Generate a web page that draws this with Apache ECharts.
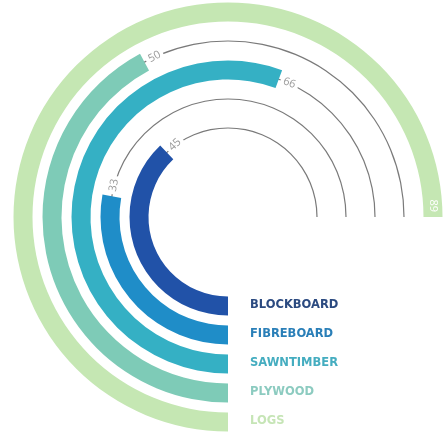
<!DOCTYPE html>
<html><head><meta charset="utf-8">
<script src="https://cdn.jsdelivr.net/npm/echarts@6/dist/echarts.min.js"></script>
<style>html,body{margin:0;padding:0;background:#fff}#c{width:445px;height:432px}</style>
</head><body><div id="c"></div>
<script>
const categories = ['BLOCKBOARD', 'FIBREBOARD', 'SAWNTIMBER', 'PLYWOOD', 'LOGS'];
const values = [45, 33, 66, 50, 89];
const trackMax = 89;
const barColors = ['#2152a8', '#1f8dc8', '#35b0c4', '#7ecbb7', '#c5e7b3'];
const legendColors = ['#2b4a80', '#2a7fb8', '#45adc0', '#8ccbc0', '#c6e5b6'];

const chart = echarts.init(document.getElementById('c'), null, {renderer: 'canvas'});
const center = [228, 217];
const radius = [74.5, 219.5];
const angleMax = trackMax * 360 / 270;

const series = categories.map((name, i) => ({
  name: name,
  type: 'bar',
  coordinateSystem: 'polar',
  polarIndex: 0,
  stack: 'main',
  barWidth: 19,
  z: 3,
  data: categories.map((c, j) => (j === i ? values[i] : '-')),
  itemStyle: {color: barColors[i]},
  label: {
    show: true,
    position: i === categories.length - 1 ? 'insideEnd' : 'end',
    distance: 2,
    color: i === categories.length - 1 ? '#ffffff' : '#9a9a9a',
    fontSize: 11,
    fontFamily: 'Open Sans',
    backgroundColor: i === categories.length - 1 ? 'transparent' : '#ffffff',
    padding: [0, 3]
  }
}));

series.push({
  name: 'track',
  type: 'bar',
  coordinateSystem: 'polar',
  polarIndex: 1,
  barWidth: 1.2,
  z: 1,
  silent: true,
  data: categories.map((c, i) => (i < categories.length - 1 ? trackMax : '-')),
  itemStyle: {color: '#7a7a7a'}
});

chart.setOption({
  animation: false,
  backgroundColor: '#ffffff',
  polar: [
    {center: center, radius: radius},
    {center: center, radius: radius}
  ],
  angleAxis: [
    {polarIndex: 0, type: 'value', min: 0, max: angleMax, startAngle: 270, clockwise: true, show: false},
    {polarIndex: 1, type: 'value', min: 0, max: angleMax, startAngle: 270, clockwise: true, show: false}
  ],
  radiusAxis: [
    {polarIndex: 0, type: 'category', data: categories, show: false},
    {polarIndex: 1, type: 'category', data: categories, show: false}
  ],
  legend: {
    orient: 'vertical',
    left: 245,
    top: 299,
    height: 133,
    padding: 0,
    icon: 'none',
    itemWidth: 0,
    itemHeight: 13,
    itemGap: 16.3,
    selectedMode: false,
    textStyle: {fontFamily: 'DejaVu Sans', fontWeight: 'bold', fontSize: 11.5},
    data: categories.map((n, i) => ({name: n, textStyle: {color: legendColors[i]}}))
  },
  series: series
});
</script>
</body></html>
